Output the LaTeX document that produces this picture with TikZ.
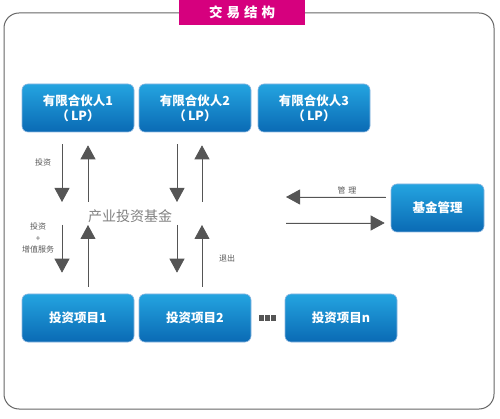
\documentclass[tikz,border=0pt]{standalone}
\usepackage{fontspec}
\usepackage{xcolor}
\usepackage{tikz}
\usetikzlibrary{positioning,arrows.meta}
\newfontfamily\cjk{Noto Sans CJK SC}
\definecolor{boxtop}{HTML}{24A4E0}
\definecolor{boxbot}{HTML}{0A6AB4}
\definecolor{boxedge}{HTML}{8DB7E0}
\definecolor{titlemag}{HTML}{D6007E}
\definecolor{arrgray}{HTML}{555555}

\begin{document}
\begin{tikzpicture}[
  x=1pt, y=-1pt,
  every node/.style={font=\cjk},
  every text node part/.style={align=center},
  box/.style={draw=boxedge, line width=0.6pt, rounded corners=6pt, top color=boxtop, bottom color=boxbot,
    minimum width=112pt, minimum height=48pt, inner sep=1pt, text=white, font=\cjk\bfseries\fontsize{12.5}{15}\selectfont},
  lbl/.style={text=black!65, font=\cjk\fontsize{8}{11.5}\selectfont, inner sep=0pt},
  arr/.style={-{Triangle[width=15pt,length=14pt]}, draw=arrgray, fill=black!62, line width=0.8pt}
]
  \useasboundingbox (0,0) rectangle (500,419);
  % frame and title
  \draw[black!60, line width=1pt, rounded corners=15pt] (4,13) rectangle (494,409);
  \node[fill=titlemag, minimum width=126pt, minimum height=25pt, inner sep=0pt, anchor=north west,
    text=white, font=\cjk\bfseries\fontsize{13.5}{14}\selectfont] (title) at (179,0) {交\hspace{4pt}易\hspace{4pt}结\hspace{4pt}构};

  % limited partners
  \node[box] (lp1) at (78,108) {有限合伙人1\\（\,LP）};
  \node[box] (lp2) at (195,108) {有限合伙人2\\（\,LP）};
  \node[box] (lp3) at (314,108) {有限合伙人3\\（\,LP）};

  % projects
  \node[box] (proj1) at (78,318) {投资项目1};
  \node[box] (proj2) at (195,318) {投资项目2};
  \node[box] (projn) at (341,318) {投资项目n};
  \foreach \i in {0,1,2}
    \fill[arrgray] (259+6*\i,315) rectangle ++(5,6);

  % fund and manager
  \node[text=black!50, font=\cjk\fontsize{14}{16}\selectfont] (fund) at (130,216) {产业投资基金};
  \node[box, minimum width=93pt] (mgmt) at (437.5,208) {基金管理};

  \coordinate (upper) at (0,202);
  \coordinate (lower) at (0,225);
  \coordinate (fundright) at (286,210);

  % partners <-> fund
  \draw[arr, shorten <=12pt] ([xshift=-16pt]lp1.south) -- ([xshift=-16pt]lp1.south |- upper);
  \draw[arr, shorten >=13pt] ([xshift=10pt]lp1.south |- upper) -- ([xshift=10pt]lp1.south);
  \draw[arr, shorten <=12pt] ([xshift=-18pt]lp2.south) -- ([xshift=-18pt]lp2.south |- upper);
  \draw[arr, shorten >=13pt] ([xshift=7pt]lp2.south |- upper) -- ([xshift=7pt]lp2.south);

  % fund <-> projects
  \draw[arr, shorten >=21pt] ([xshift=-16pt]proj1.north |- lower) -- ([xshift=-16pt]proj1.north);
  \draw[arr, shorten <=7pt] ([xshift=10pt]proj1.north) -- ([xshift=10pt]proj1.north |- lower);
  \draw[arr, shorten >=21pt] ([xshift=-18pt]proj2.north |- lower) -- ([xshift=-18pt]proj2.north);
  \draw[arr, shorten <=7pt] ([xshift=7pt]proj2.north) -- ([xshift=7pt]proj2.north |- lower);

  % manager <-> fund
  \draw[arr, shorten <=5pt] ([yshift=11pt]mgmt.west) -- ([yshift=11pt]mgmt.west -| fundright);
  \draw[arr, shorten >=6pt] ([yshift=-15pt]mgmt.west -| fundright) -- ([yshift=-15pt]mgmt.west);

  % labels
  \node[lbl] (inv) at (43,162) {投资};
  \node[lbl] (invplus) at (38,238) {投资\\+\\增值服务};
  \node[lbl] (exit) at (227,258) {退出};
  \node[lbl] (manage) at (347,190) {管\,\,理};
\end{tikzpicture}
\end{document}
